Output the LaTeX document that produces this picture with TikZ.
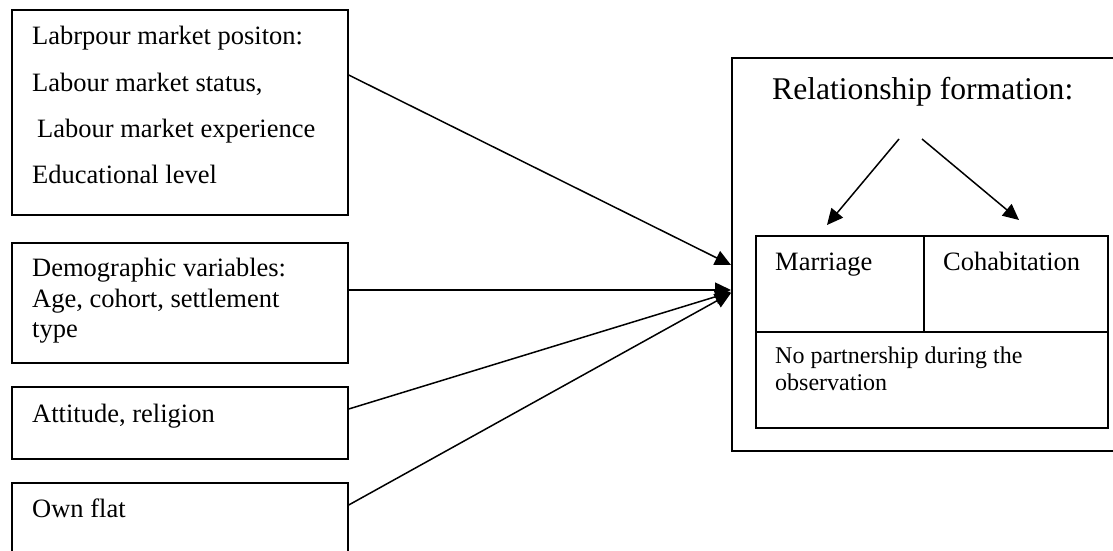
\documentclass[tikz,border=0pt]{standalone}
\usepackage{fontspec}
\setmainfont{Liberation Serif}
\usetikzlibrary{arrows.meta,calc}
\begin{document}
\begin{tikzpicture}[x=1pt,y=-1pt,
 box/.style={draw,line width=1.7pt,rectangle,inner sep=0pt,anchor=north west},
 lbl/.style={anchor=base west,inner sep=0pt,font=\fontsize{26.5}{30}\selectfont},
 small/.style={anchor=base west,inner sep=0pt,font=\fontsize{24}{28}\selectfont},
 big/.style={anchor=base west,inner sep=0pt,font=\fontsize{31.6}{36}\selectfont},
 arr/.style={line width=1.5pt,-{Triangle[length=16pt,width=15pt]}}]
\useasboundingbox (0,0) rectangle (1113,551);
\clip (0,0) rectangle (1113,551);
\fill[white] (0,0) rectangle (1113,551);
% left boxes
\node[box,minimum width=336pt,minimum height=205pt] (b1) at (11,9) {};
\node[box,minimum width=336pt,minimum height=120pt] (b2) at (11,242) {};
\node[box,minimum width=336pt,minimum height=72pt] (b3) at (11,386) {};
\node[box,minimum width=336pt,minimum height=95pt] (b4) at (11,482) {};
% right boxes
\node[box,minimum width=400pt,minimum height=393pt] (out) at (731,57) {};
\node[box,minimum width=168pt,minimum height=96pt] (mar) at (755,235) {};
\node[box,minimum width=184pt,minimum height=96pt] (coh) at (923,235) {};
\node[box,minimum width=352pt,minimum height=96pt] (nop) at (755,331) {};
% texts
\node[lbl] (t1a) at (32,45) {Labrpour market positon:};
\node[lbl] (t1b) at (32,91) {Labour market status,};
\node[lbl] (t1c) at (37,137) {Labour market experience};
\node[lbl] (t1d) at (32,183) {Educational level};
\node[lbl] (t2a) at (32,276) {Demographic variables:};
\node[lbl] (t2b) at (32,307) {Age, cohort, settlement};
\node[lbl] (t2c) at (32,337) {type};
\node[lbl] (t3) at (32,422) {Attitude, religion};
\node[lbl] (t4) at (32,517) {Own flat};
\node[big] (title) at (772,99) {Relationship formation:};
\node[lbl] (tm) at (775,270) {Marriage};
\node[lbl] (tc) at (943,270) {Cohabitation};
\node[small] (tn1) at (775,363) {No partnership during the};
\node[small] (tn2) at (775,390) {observation};
% inner arrows
\coordinate (s1) at (899,139);
\coordinate (s2) at (922,139);
\coordinate (e1) at (827,225);
\coordinate (e2) at (1019,220);
\draw[arr] (s1) -- (e1);
\draw[arr] (s2) -- (e2);
% left arrows
\draw[arr] ($(b1.north east)+(0,66)$) -- ($(out.north west)+(0,208)$);
\draw[arr] ($(b2.north east)+(0,48)$) -- ($(out.north west)+(0,233)$);
\draw[arr] ($(b3.north east)+(0,23)$) -- ($(out.north west)+(0,235)$);
\draw[arr] ($(b4.north east)+(0,23)$) -- ($(out.north west)+(0,236)$);
\end{tikzpicture}
\end{document}
